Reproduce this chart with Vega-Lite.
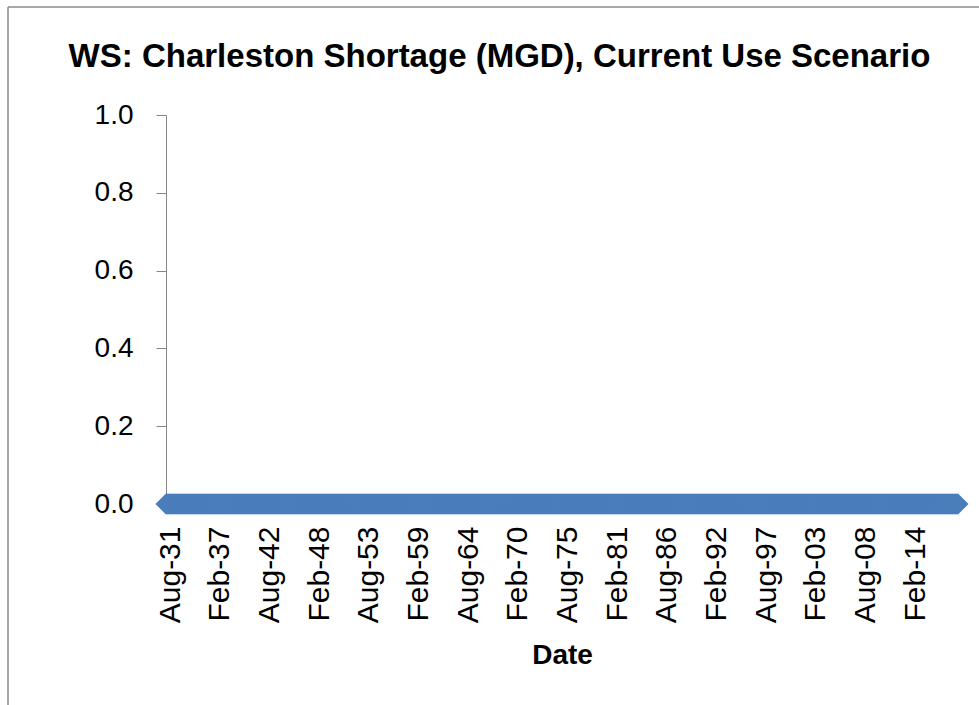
{
"$schema":"https://vega.github.io/schema/vega-lite/v6.json",
"width":971,"height":698,
"autosize":{"type":"none"},
"padding":{"left":8,"top":7,"right":0,"bottom":0},
"background":"white",
"view":{"stroke":"#8c8c8c","strokeWidth":1.5,"strokeDash":[971,1669,698,0]},
"title":{"text":"WS: Charleston Shortage (MGD), Current Use Scenario","font":"Liberation Sans","fontSize":33,"fontWeight":"bold","color":"#000","anchor":"middle","offset":-67,"dx":6},
"data":{"values":[
{"d":"1931-08","v":0},{"d":"1931-09","v":0},{"d":"1931-10","v":0},{"d":"1931-11","v":0},{"d":"1931-12","v":0},
{"d":"1932-01","v":0},{"d":"1932-02","v":0},{"d":"1932-03","v":0},{"d":"1932-04","v":0},{"d":"1932-05","v":0},{"d":"1932-06","v":0},{"d":"1932-07","v":0},{"d":"1932-08","v":0},{"d":"1932-09","v":0},{"d":"1932-10","v":0},{"d":"1932-11","v":0},{"d":"1932-12","v":0},
{"d":"1933-01","v":0},{"d":"1933-02","v":0},{"d":"1933-03","v":0},{"d":"1933-04","v":0},{"d":"1933-05","v":0},{"d":"1933-06","v":0},{"d":"1933-07","v":0},{"d":"1933-08","v":0},{"d":"1933-09","v":0},{"d":"1933-10","v":0},{"d":"1933-11","v":0},{"d":"1933-12","v":0},
{"d":"1934-01","v":0},{"d":"1934-02","v":0},{"d":"1934-03","v":0},{"d":"1934-04","v":0},{"d":"1934-05","v":0},{"d":"1934-06","v":0},{"d":"1934-07","v":0},{"d":"1934-08","v":0},{"d":"1934-09","v":0},{"d":"1934-10","v":0},{"d":"1934-11","v":0},{"d":"1934-12","v":0},
{"d":"1935-01","v":0},{"d":"1935-02","v":0},{"d":"1935-03","v":0},{"d":"1935-04","v":0},{"d":"1935-05","v":0},{"d":"1935-06","v":0},{"d":"1935-07","v":0},{"d":"1935-08","v":0},{"d":"1935-09","v":0},{"d":"1935-10","v":0},{"d":"1935-11","v":0},{"d":"1935-12","v":0},
{"d":"1936-01","v":0},{"d":"1936-02","v":0},{"d":"1936-03","v":0},{"d":"1936-04","v":0},{"d":"1936-05","v":0},{"d":"1936-06","v":0},{"d":"1936-07","v":0},{"d":"1936-08","v":0},{"d":"1936-09","v":0},{"d":"1936-10","v":0},{"d":"1936-11","v":0},{"d":"1936-12","v":0},
{"d":"1937-01","v":0},{"d":"1937-02","v":0},{"d":"1937-03","v":0},{"d":"1937-04","v":0},{"d":"1937-05","v":0},{"d":"1937-06","v":0},{"d":"1937-07","v":0},{"d":"1937-08","v":0},{"d":"1937-09","v":0},{"d":"1937-10","v":0},{"d":"1937-11","v":0},{"d":"1937-12","v":0},
{"d":"1938-01","v":0},{"d":"1938-02","v":0},{"d":"1938-03","v":0},{"d":"1938-04","v":0},{"d":"1938-05","v":0},{"d":"1938-06","v":0},{"d":"1938-07","v":0},{"d":"1938-08","v":0},{"d":"1938-09","v":0},{"d":"1938-10","v":0},{"d":"1938-11","v":0},{"d":"1938-12","v":0},
{"d":"1939-01","v":0},{"d":"1939-02","v":0},{"d":"1939-03","v":0},{"d":"1939-04","v":0},{"d":"1939-05","v":0},{"d":"1939-06","v":0},{"d":"1939-07","v":0},{"d":"1939-08","v":0},{"d":"1939-09","v":0},{"d":"1939-10","v":0},{"d":"1939-11","v":0},{"d":"1939-12","v":0},
{"d":"1940-01","v":0},{"d":"1940-02","v":0},{"d":"1940-03","v":0},{"d":"1940-04","v":0},{"d":"1940-05","v":0},{"d":"1940-06","v":0},{"d":"1940-07","v":0},{"d":"1940-08","v":0},{"d":"1940-09","v":0},{"d":"1940-10","v":0},{"d":"1940-11","v":0},{"d":"1940-12","v":0},
{"d":"1941-01","v":0},{"d":"1941-02","v":0},{"d":"1941-03","v":0},{"d":"1941-04","v":0},{"d":"1941-05","v":0},{"d":"1941-06","v":0},{"d":"1941-07","v":0},{"d":"1941-08","v":0},{"d":"1941-09","v":0},{"d":"1941-10","v":0},{"d":"1941-11","v":0},{"d":"1941-12","v":0},
{"d":"1942-01","v":0},{"d":"1942-02","v":0},{"d":"1942-03","v":0},{"d":"1942-04","v":0},{"d":"1942-05","v":0},{"d":"1942-06","v":0},{"d":"1942-07","v":0},{"d":"1942-08","v":0},{"d":"1942-09","v":0},{"d":"1942-10","v":0},{"d":"1942-11","v":0},{"d":"1942-12","v":0},
{"d":"1943-01","v":0},{"d":"1943-02","v":0},{"d":"1943-03","v":0},{"d":"1943-04","v":0},{"d":"1943-05","v":0},{"d":"1943-06","v":0},{"d":"1943-07","v":0},{"d":"1943-08","v":0},{"d":"1943-09","v":0},{"d":"1943-10","v":0},{"d":"1943-11","v":0},{"d":"1943-12","v":0},
{"d":"1944-01","v":0},{"d":"1944-02","v":0},{"d":"1944-03","v":0},{"d":"1944-04","v":0},{"d":"1944-05","v":0},{"d":"1944-06","v":0},{"d":"1944-07","v":0},{"d":"1944-08","v":0},{"d":"1944-09","v":0},{"d":"1944-10","v":0},{"d":"1944-11","v":0},{"d":"1944-12","v":0},
{"d":"1945-01","v":0},{"d":"1945-02","v":0},{"d":"1945-03","v":0},{"d":"1945-04","v":0},{"d":"1945-05","v":0},{"d":"1945-06","v":0},{"d":"1945-07","v":0},{"d":"1945-08","v":0},{"d":"1945-09","v":0},{"d":"1945-10","v":0},{"d":"1945-11","v":0},{"d":"1945-12","v":0},
{"d":"1946-01","v":0},{"d":"1946-02","v":0},{"d":"1946-03","v":0},{"d":"1946-04","v":0},{"d":"1946-05","v":0},{"d":"1946-06","v":0},{"d":"1946-07","v":0},{"d":"1946-08","v":0},{"d":"1946-09","v":0},{"d":"1946-10","v":0},{"d":"1946-11","v":0},{"d":"1946-12","v":0},
{"d":"1947-01","v":0},{"d":"1947-02","v":0},{"d":"1947-03","v":0},{"d":"1947-04","v":0},{"d":"1947-05","v":0},{"d":"1947-06","v":0},{"d":"1947-07","v":0},{"d":"1947-08","v":0},{"d":"1947-09","v":0},{"d":"1947-10","v":0},{"d":"1947-11","v":0},{"d":"1947-12","v":0},
{"d":"1948-01","v":0},{"d":"1948-02","v":0},{"d":"1948-03","v":0},{"d":"1948-04","v":0},{"d":"1948-05","v":0},{"d":"1948-06","v":0},{"d":"1948-07","v":0},{"d":"1948-08","v":0},{"d":"1948-09","v":0},{"d":"1948-10","v":0},{"d":"1948-11","v":0},{"d":"1948-12","v":0},
{"d":"1949-01","v":0},{"d":"1949-02","v":0},{"d":"1949-03","v":0},{"d":"1949-04","v":0},{"d":"1949-05","v":0},{"d":"1949-06","v":0},{"d":"1949-07","v":0},{"d":"1949-08","v":0},{"d":"1949-09","v":0},{"d":"1949-10","v":0},{"d":"1949-11","v":0},{"d":"1949-12","v":0},
{"d":"1950-01","v":0},{"d":"1950-02","v":0},{"d":"1950-03","v":0},{"d":"1950-04","v":0},{"d":"1950-05","v":0},{"d":"1950-06","v":0},{"d":"1950-07","v":0},{"d":"1950-08","v":0},{"d":"1950-09","v":0},{"d":"1950-10","v":0},{"d":"1950-11","v":0},{"d":"1950-12","v":0},
{"d":"1951-01","v":0},{"d":"1951-02","v":0},{"d":"1951-03","v":0},{"d":"1951-04","v":0},{"d":"1951-05","v":0},{"d":"1951-06","v":0},{"d":"1951-07","v":0},{"d":"1951-08","v":0},{"d":"1951-09","v":0},{"d":"1951-10","v":0},{"d":"1951-11","v":0},{"d":"1951-12","v":0},
{"d":"1952-01","v":0},{"d":"1952-02","v":0},{"d":"1952-03","v":0},{"d":"1952-04","v":0},{"d":"1952-05","v":0},{"d":"1952-06","v":0},{"d":"1952-07","v":0},{"d":"1952-08","v":0},{"d":"1952-09","v":0},{"d":"1952-10","v":0},{"d":"1952-11","v":0},{"d":"1952-12","v":0},
{"d":"1953-01","v":0},{"d":"1953-02","v":0},{"d":"1953-03","v":0},{"d":"1953-04","v":0},{"d":"1953-05","v":0},{"d":"1953-06","v":0},{"d":"1953-07","v":0},{"d":"1953-08","v":0},{"d":"1953-09","v":0},{"d":"1953-10","v":0},{"d":"1953-11","v":0},{"d":"1953-12","v":0},
{"d":"1954-01","v":0},{"d":"1954-02","v":0},{"d":"1954-03","v":0},{"d":"1954-04","v":0},{"d":"1954-05","v":0},{"d":"1954-06","v":0},{"d":"1954-07","v":0},{"d":"1954-08","v":0},{"d":"1954-09","v":0},{"d":"1954-10","v":0},{"d":"1954-11","v":0},{"d":"1954-12","v":0},
{"d":"1955-01","v":0},{"d":"1955-02","v":0},{"d":"1955-03","v":0},{"d":"1955-04","v":0},{"d":"1955-05","v":0},{"d":"1955-06","v":0},{"d":"1955-07","v":0},{"d":"1955-08","v":0},{"d":"1955-09","v":0},{"d":"1955-10","v":0},{"d":"1955-11","v":0},{"d":"1955-12","v":0},
{"d":"1956-01","v":0},{"d":"1956-02","v":0},{"d":"1956-03","v":0},{"d":"1956-04","v":0},{"d":"1956-05","v":0},{"d":"1956-06","v":0},{"d":"1956-07","v":0},{"d":"1956-08","v":0},{"d":"1956-09","v":0},{"d":"1956-10","v":0},{"d":"1956-11","v":0},{"d":"1956-12","v":0},
{"d":"1957-01","v":0},{"d":"1957-02","v":0},{"d":"1957-03","v":0},{"d":"1957-04","v":0},{"d":"1957-05","v":0},{"d":"1957-06","v":0},{"d":"1957-07","v":0},{"d":"1957-08","v":0},{"d":"1957-09","v":0},{"d":"1957-10","v":0},{"d":"1957-11","v":0},{"d":"1957-12","v":0},
{"d":"1958-01","v":0},{"d":"1958-02","v":0},{"d":"1958-03","v":0},{"d":"1958-04","v":0},{"d":"1958-05","v":0},{"d":"1958-06","v":0},{"d":"1958-07","v":0},{"d":"1958-08","v":0},{"d":"1958-09","v":0},{"d":"1958-10","v":0},{"d":"1958-11","v":0},{"d":"1958-12","v":0},
{"d":"1959-01","v":0},{"d":"1959-02","v":0},{"d":"1959-03","v":0},{"d":"1959-04","v":0},{"d":"1959-05","v":0},{"d":"1959-06","v":0},{"d":"1959-07","v":0},{"d":"1959-08","v":0},{"d":"1959-09","v":0},{"d":"1959-10","v":0},{"d":"1959-11","v":0},{"d":"1959-12","v":0},
{"d":"1960-01","v":0},{"d":"1960-02","v":0},{"d":"1960-03","v":0},{"d":"1960-04","v":0},{"d":"1960-05","v":0},{"d":"1960-06","v":0},{"d":"1960-07","v":0},{"d":"1960-08","v":0},{"d":"1960-09","v":0},{"d":"1960-10","v":0},{"d":"1960-11","v":0},{"d":"1960-12","v":0},
{"d":"1961-01","v":0},{"d":"1961-02","v":0},{"d":"1961-03","v":0},{"d":"1961-04","v":0},{"d":"1961-05","v":0},{"d":"1961-06","v":0},{"d":"1961-07","v":0},{"d":"1961-08","v":0},{"d":"1961-09","v":0},{"d":"1961-10","v":0},{"d":"1961-11","v":0},{"d":"1961-12","v":0},
{"d":"1962-01","v":0},{"d":"1962-02","v":0},{"d":"1962-03","v":0},{"d":"1962-04","v":0},{"d":"1962-05","v":0},{"d":"1962-06","v":0},{"d":"1962-07","v":0},{"d":"1962-08","v":0},{"d":"1962-09","v":0},{"d":"1962-10","v":0},{"d":"1962-11","v":0},{"d":"1962-12","v":0},
{"d":"1963-01","v":0},{"d":"1963-02","v":0},{"d":"1963-03","v":0},{"d":"1963-04","v":0},{"d":"1963-05","v":0},{"d":"1963-06","v":0},{"d":"1963-07","v":0},{"d":"1963-08","v":0},{"d":"1963-09","v":0},{"d":"1963-10","v":0},{"d":"1963-11","v":0},{"d":"1963-12","v":0},
{"d":"1964-01","v":0},{"d":"1964-02","v":0},{"d":"1964-03","v":0},{"d":"1964-04","v":0},{"d":"1964-05","v":0},{"d":"1964-06","v":0},{"d":"1964-07","v":0},{"d":"1964-08","v":0},{"d":"1964-09","v":0},{"d":"1964-10","v":0},{"d":"1964-11","v":0},{"d":"1964-12","v":0},
{"d":"1965-01","v":0},{"d":"1965-02","v":0},{"d":"1965-03","v":0},{"d":"1965-04","v":0},{"d":"1965-05","v":0},{"d":"1965-06","v":0},{"d":"1965-07","v":0},{"d":"1965-08","v":0},{"d":"1965-09","v":0},{"d":"1965-10","v":0},{"d":"1965-11","v":0},{"d":"1965-12","v":0},
{"d":"1966-01","v":0},{"d":"1966-02","v":0},{"d":"1966-03","v":0},{"d":"1966-04","v":0},{"d":"1966-05","v":0},{"d":"1966-06","v":0},{"d":"1966-07","v":0},{"d":"1966-08","v":0},{"d":"1966-09","v":0},{"d":"1966-10","v":0},{"d":"1966-11","v":0},{"d":"1966-12","v":0},
{"d":"1967-01","v":0},{"d":"1967-02","v":0},{"d":"1967-03","v":0},{"d":"1967-04","v":0},{"d":"1967-05","v":0},{"d":"1967-06","v":0},{"d":"1967-07","v":0},{"d":"1967-08","v":0},{"d":"1967-09","v":0},{"d":"1967-10","v":0},{"d":"1967-11","v":0},{"d":"1967-12","v":0},
{"d":"1968-01","v":0},{"d":"1968-02","v":0},{"d":"1968-03","v":0},{"d":"1968-04","v":0},{"d":"1968-05","v":0},{"d":"1968-06","v":0},{"d":"1968-07","v":0},{"d":"1968-08","v":0},{"d":"1968-09","v":0},{"d":"1968-10","v":0},{"d":"1968-11","v":0},{"d":"1968-12","v":0},
{"d":"1969-01","v":0},{"d":"1969-02","v":0},{"d":"1969-03","v":0},{"d":"1969-04","v":0},{"d":"1969-05","v":0},{"d":"1969-06","v":0},{"d":"1969-07","v":0},{"d":"1969-08","v":0},{"d":"1969-09","v":0},{"d":"1969-10","v":0},{"d":"1969-11","v":0},{"d":"1969-12","v":0},
{"d":"1970-01","v":0},{"d":"1970-02","v":0},{"d":"1970-03","v":0},{"d":"1970-04","v":0},{"d":"1970-05","v":0},{"d":"1970-06","v":0},{"d":"1970-07","v":0},{"d":"1970-08","v":0},{"d":"1970-09","v":0},{"d":"1970-10","v":0},{"d":"1970-11","v":0},{"d":"1970-12","v":0},
{"d":"1971-01","v":0},{"d":"1971-02","v":0},{"d":"1971-03","v":0},{"d":"1971-04","v":0},{"d":"1971-05","v":0},{"d":"1971-06","v":0},{"d":"1971-07","v":0},{"d":"1971-08","v":0},{"d":"1971-09","v":0},{"d":"1971-10","v":0},{"d":"1971-11","v":0},{"d":"1971-12","v":0},
{"d":"1972-01","v":0},{"d":"1972-02","v":0},{"d":"1972-03","v":0},{"d":"1972-04","v":0},{"d":"1972-05","v":0},{"d":"1972-06","v":0},{"d":"1972-07","v":0},{"d":"1972-08","v":0},{"d":"1972-09","v":0},{"d":"1972-10","v":0},{"d":"1972-11","v":0},{"d":"1972-12","v":0},
{"d":"1973-01","v":0},{"d":"1973-02","v":0},{"d":"1973-03","v":0},{"d":"1973-04","v":0},{"d":"1973-05","v":0},{"d":"1973-06","v":0},{"d":"1973-07","v":0},{"d":"1973-08","v":0},{"d":"1973-09","v":0},{"d":"1973-10","v":0},{"d":"1973-11","v":0},{"d":"1973-12","v":0},
{"d":"1974-01","v":0},{"d":"1974-02","v":0},{"d":"1974-03","v":0},{"d":"1974-04","v":0},{"d":"1974-05","v":0},{"d":"1974-06","v":0},{"d":"1974-07","v":0},{"d":"1974-08","v":0},{"d":"1974-09","v":0},{"d":"1974-10","v":0},{"d":"1974-11","v":0},{"d":"1974-12","v":0},
{"d":"1975-01","v":0},{"d":"1975-02","v":0},{"d":"1975-03","v":0},{"d":"1975-04","v":0},{"d":"1975-05","v":0},{"d":"1975-06","v":0},{"d":"1975-07","v":0},{"d":"1975-08","v":0},{"d":"1975-09","v":0},{"d":"1975-10","v":0},{"d":"1975-11","v":0},{"d":"1975-12","v":0},
{"d":"1976-01","v":0},{"d":"1976-02","v":0},{"d":"1976-03","v":0},{"d":"1976-04","v":0},{"d":"1976-05","v":0},{"d":"1976-06","v":0},{"d":"1976-07","v":0},{"d":"1976-08","v":0},{"d":"1976-09","v":0},{"d":"1976-10","v":0},{"d":"1976-11","v":0},{"d":"1976-12","v":0},
{"d":"1977-01","v":0},{"d":"1977-02","v":0},{"d":"1977-03","v":0},{"d":"1977-04","v":0},{"d":"1977-05","v":0},{"d":"1977-06","v":0},{"d":"1977-07","v":0},{"d":"1977-08","v":0},{"d":"1977-09","v":0},{"d":"1977-10","v":0},{"d":"1977-11","v":0},{"d":"1977-12","v":0},
{"d":"1978-01","v":0},{"d":"1978-02","v":0},{"d":"1978-03","v":0},{"d":"1978-04","v":0},{"d":"1978-05","v":0},{"d":"1978-06","v":0},{"d":"1978-07","v":0},{"d":"1978-08","v":0},{"d":"1978-09","v":0},{"d":"1978-10","v":0},{"d":"1978-11","v":0},{"d":"1978-12","v":0},
{"d":"1979-01","v":0},{"d":"1979-02","v":0},{"d":"1979-03","v":0},{"d":"1979-04","v":0},{"d":"1979-05","v":0},{"d":"1979-06","v":0},{"d":"1979-07","v":0},{"d":"1979-08","v":0},{"d":"1979-09","v":0},{"d":"1979-10","v":0},{"d":"1979-11","v":0},{"d":"1979-12","v":0},
{"d":"1980-01","v":0},{"d":"1980-02","v":0},{"d":"1980-03","v":0},{"d":"1980-04","v":0},{"d":"1980-05","v":0},{"d":"1980-06","v":0},{"d":"1980-07","v":0},{"d":"1980-08","v":0},{"d":"1980-09","v":0},{"d":"1980-10","v":0},{"d":"1980-11","v":0},{"d":"1980-12","v":0},
{"d":"1981-01","v":0},{"d":"1981-02","v":0},{"d":"1981-03","v":0},{"d":"1981-04","v":0},{"d":"1981-05","v":0},{"d":"1981-06","v":0},{"d":"1981-07","v":0},{"d":"1981-08","v":0},{"d":"1981-09","v":0},{"d":"1981-10","v":0},{"d":"1981-11","v":0},{"d":"1981-12","v":0},
{"d":"1982-01","v":0},{"d":"1982-02","v":0},{"d":"1982-03","v":0},{"d":"1982-04","v":0},{"d":"1982-05","v":0},{"d":"1982-06","v":0},{"d":"1982-07","v":0},{"d":"1982-08","v":0},{"d":"1982-09","v":0},{"d":"1982-10","v":0},{"d":"1982-11","v":0},{"d":"1982-12","v":0},
{"d":"1983-01","v":0},{"d":"1983-02","v":0},{"d":"1983-03","v":0},{"d":"1983-04","v":0},{"d":"1983-05","v":0},{"d":"1983-06","v":0},{"d":"1983-07","v":0},{"d":"1983-08","v":0},{"d":"1983-09","v":0},{"d":"1983-10","v":0},{"d":"1983-11","v":0},{"d":"1983-12","v":0},
{"d":"1984-01","v":0},{"d":"1984-02","v":0},{"d":"1984-03","v":0},{"d":"1984-04","v":0},{"d":"1984-05","v":0},{"d":"1984-06","v":0},{"d":"1984-07","v":0},{"d":"1984-08","v":0},{"d":"1984-09","v":0},{"d":"1984-10","v":0},{"d":"1984-11","v":0},{"d":"1984-12","v":0},
{"d":"1985-01","v":0},{"d":"1985-02","v":0},{"d":"1985-03","v":0},{"d":"1985-04","v":0},{"d":"1985-05","v":0},{"d":"1985-06","v":0},{"d":"1985-07","v":0},{"d":"1985-08","v":0},{"d":"1985-09","v":0},{"d":"1985-10","v":0},{"d":"1985-11","v":0},{"d":"1985-12","v":0},
{"d":"1986-01","v":0},{"d":"1986-02","v":0},{"d":"1986-03","v":0},{"d":"1986-04","v":0},{"d":"1986-05","v":0},{"d":"1986-06","v":0},{"d":"1986-07","v":0},{"d":"1986-08","v":0},{"d":"1986-09","v":0},{"d":"1986-10","v":0},{"d":"1986-11","v":0},{"d":"1986-12","v":0},
{"d":"1987-01","v":0},{"d":"1987-02","v":0},{"d":"1987-03","v":0},{"d":"1987-04","v":0},{"d":"1987-05","v":0},{"d":"1987-06","v":0},{"d":"1987-07","v":0},{"d":"1987-08","v":0},{"d":"1987-09","v":0},{"d":"1987-10","v":0},{"d":"1987-11","v":0},{"d":"1987-12","v":0},
{"d":"1988-01","v":0},{"d":"1988-02","v":0},{"d":"1988-03","v":0},{"d":"1988-04","v":0},{"d":"1988-05","v":0},{"d":"1988-06","v":0},{"d":"1988-07","v":0},{"d":"1988-08","v":0},{"d":"1988-09","v":0},{"d":"1988-10","v":0},{"d":"1988-11","v":0},{"d":"1988-12","v":0},
{"d":"1989-01","v":0},{"d":"1989-02","v":0},{"d":"1989-03","v":0},{"d":"1989-04","v":0},{"d":"1989-05","v":0},{"d":"1989-06","v":0},{"d":"1989-07","v":0},{"d":"1989-08","v":0},{"d":"1989-09","v":0},{"d":"1989-10","v":0},{"d":"1989-11","v":0},{"d":"1989-12","v":0},
{"d":"1990-01","v":0},{"d":"1990-02","v":0},{"d":"1990-03","v":0},{"d":"1990-04","v":0},{"d":"1990-05","v":0},{"d":"1990-06","v":0},{"d":"1990-07","v":0},{"d":"1990-08","v":0},{"d":"1990-09","v":0},{"d":"1990-10","v":0},{"d":"1990-11","v":0},{"d":"1990-12","v":0},
{"d":"1991-01","v":0},{"d":"1991-02","v":0},{"d":"1991-03","v":0},{"d":"1991-04","v":0},{"d":"1991-05","v":0},{"d":"1991-06","v":0},{"d":"1991-07","v":0},{"d":"1991-08","v":0},{"d":"1991-09","v":0},{"d":"1991-10","v":0},{"d":"1991-11","v":0},{"d":"1991-12","v":0},
{"d":"1992-01","v":0},{"d":"1992-02","v":0},{"d":"1992-03","v":0},{"d":"1992-04","v":0},{"d":"1992-05","v":0},{"d":"1992-06","v":0},{"d":"1992-07","v":0},{"d":"1992-08","v":0},{"d":"1992-09","v":0},{"d":"1992-10","v":0},{"d":"1992-11","v":0},{"d":"1992-12","v":0},
{"d":"1993-01","v":0},{"d":"1993-02","v":0},{"d":"1993-03","v":0},{"d":"1993-04","v":0},{"d":"1993-05","v":0},{"d":"1993-06","v":0},{"d":"1993-07","v":0},{"d":"1993-08","v":0},{"d":"1993-09","v":0},{"d":"1993-10","v":0},{"d":"1993-11","v":0},{"d":"1993-12","v":0},
{"d":"1994-01","v":0},{"d":"1994-02","v":0},{"d":"1994-03","v":0},{"d":"1994-04","v":0},{"d":"1994-05","v":0},{"d":"1994-06","v":0},{"d":"1994-07","v":0},{"d":"1994-08","v":0},{"d":"1994-09","v":0},{"d":"1994-10","v":0},{"d":"1994-11","v":0},{"d":"1994-12","v":0},
{"d":"1995-01","v":0},{"d":"1995-02","v":0},{"d":"1995-03","v":0},{"d":"1995-04","v":0},{"d":"1995-05","v":0},{"d":"1995-06","v":0},{"d":"1995-07","v":0},{"d":"1995-08","v":0},{"d":"1995-09","v":0},{"d":"1995-10","v":0},{"d":"1995-11","v":0},{"d":"1995-12","v":0},
{"d":"1996-01","v":0},{"d":"1996-02","v":0},{"d":"1996-03","v":0},{"d":"1996-04","v":0},{"d":"1996-05","v":0},{"d":"1996-06","v":0},{"d":"1996-07","v":0},{"d":"1996-08","v":0},{"d":"1996-09","v":0},{"d":"1996-10","v":0},{"d":"1996-11","v":0},{"d":"1996-12","v":0},
{"d":"1997-01","v":0},{"d":"1997-02","v":0},{"d":"1997-03","v":0},{"d":"1997-04","v":0},{"d":"1997-05","v":0},{"d":"1997-06","v":0},{"d":"1997-07","v":0},{"d":"1997-08","v":0},{"d":"1997-09","v":0},{"d":"1997-10","v":0},{"d":"1997-11","v":0},{"d":"1997-12","v":0},
{"d":"1998-01","v":0},{"d":"1998-02","v":0},{"d":"1998-03","v":0},{"d":"1998-04","v":0},{"d":"1998-05","v":0},{"d":"1998-06","v":0},{"d":"1998-07","v":0},{"d":"1998-08","v":0},{"d":"1998-09","v":0},{"d":"1998-10","v":0},{"d":"1998-11","v":0},{"d":"1998-12","v":0},
{"d":"1999-01","v":0},{"d":"1999-02","v":0},{"d":"1999-03","v":0},{"d":"1999-04","v":0},{"d":"1999-05","v":0},{"d":"1999-06","v":0},{"d":"1999-07","v":0},{"d":"1999-08","v":0},{"d":"1999-09","v":0},{"d":"1999-10","v":0},{"d":"1999-11","v":0},{"d":"1999-12","v":0},
{"d":"2000-01","v":0},{"d":"2000-02","v":0},{"d":"2000-03","v":0},{"d":"2000-04","v":0},{"d":"2000-05","v":0},{"d":"2000-06","v":0},{"d":"2000-07","v":0},{"d":"2000-08","v":0},{"d":"2000-09","v":0},{"d":"2000-10","v":0},{"d":"2000-11","v":0},{"d":"2000-12","v":0},
{"d":"2001-01","v":0},{"d":"2001-02","v":0},{"d":"2001-03","v":0},{"d":"2001-04","v":0},{"d":"2001-05","v":0},{"d":"2001-06","v":0},{"d":"2001-07","v":0},{"d":"2001-08","v":0},{"d":"2001-09","v":0},{"d":"2001-10","v":0},{"d":"2001-11","v":0},{"d":"2001-12","v":0},
{"d":"2002-01","v":0},{"d":"2002-02","v":0},{"d":"2002-03","v":0},{"d":"2002-04","v":0},{"d":"2002-05","v":0},{"d":"2002-06","v":0},{"d":"2002-07","v":0},{"d":"2002-08","v":0},{"d":"2002-09","v":0},{"d":"2002-10","v":0},{"d":"2002-11","v":0},{"d":"2002-12","v":0},
{"d":"2003-01","v":0},{"d":"2003-02","v":0},{"d":"2003-03","v":0},{"d":"2003-04","v":0},{"d":"2003-05","v":0},{"d":"2003-06","v":0},{"d":"2003-07","v":0},{"d":"2003-08","v":0},{"d":"2003-09","v":0},{"d":"2003-10","v":0},{"d":"2003-11","v":0},{"d":"2003-12","v":0},
{"d":"2004-01","v":0},{"d":"2004-02","v":0},{"d":"2004-03","v":0},{"d":"2004-04","v":0},{"d":"2004-05","v":0},{"d":"2004-06","v":0},{"d":"2004-07","v":0},{"d":"2004-08","v":0},{"d":"2004-09","v":0},{"d":"2004-10","v":0},{"d":"2004-11","v":0},{"d":"2004-12","v":0},
{"d":"2005-01","v":0},{"d":"2005-02","v":0},{"d":"2005-03","v":0},{"d":"2005-04","v":0},{"d":"2005-05","v":0},{"d":"2005-06","v":0},{"d":"2005-07","v":0},{"d":"2005-08","v":0},{"d":"2005-09","v":0},{"d":"2005-10","v":0},{"d":"2005-11","v":0},{"d":"2005-12","v":0},
{"d":"2006-01","v":0},{"d":"2006-02","v":0},{"d":"2006-03","v":0},{"d":"2006-04","v":0},{"d":"2006-05","v":0},{"d":"2006-06","v":0},{"d":"2006-07","v":0},{"d":"2006-08","v":0},{"d":"2006-09","v":0},{"d":"2006-10","v":0},{"d":"2006-11","v":0},{"d":"2006-12","v":0},
{"d":"2007-01","v":0},{"d":"2007-02","v":0},{"d":"2007-03","v":0},{"d":"2007-04","v":0},{"d":"2007-05","v":0},{"d":"2007-06","v":0},{"d":"2007-07","v":0},{"d":"2007-08","v":0},{"d":"2007-09","v":0},{"d":"2007-10","v":0},{"d":"2007-11","v":0},{"d":"2007-12","v":0},
{"d":"2008-01","v":0},{"d":"2008-02","v":0},{"d":"2008-03","v":0},{"d":"2008-04","v":0},{"d":"2008-05","v":0},{"d":"2008-06","v":0},{"d":"2008-07","v":0},{"d":"2008-08","v":0},{"d":"2008-09","v":0},{"d":"2008-10","v":0},{"d":"2008-11","v":0},{"d":"2008-12","v":0},
{"d":"2009-01","v":0},{"d":"2009-02","v":0},{"d":"2009-03","v":0},{"d":"2009-04","v":0},{"d":"2009-05","v":0},{"d":"2009-06","v":0},{"d":"2009-07","v":0},{"d":"2009-08","v":0},{"d":"2009-09","v":0},{"d":"2009-10","v":0},{"d":"2009-11","v":0},{"d":"2009-12","v":0},
{"d":"2010-01","v":0},{"d":"2010-02","v":0},{"d":"2010-03","v":0},{"d":"2010-04","v":0},{"d":"2010-05","v":0},{"d":"2010-06","v":0},{"d":"2010-07","v":0},{"d":"2010-08","v":0},{"d":"2010-09","v":0},{"d":"2010-10","v":0},{"d":"2010-11","v":0},{"d":"2010-12","v":0},
{"d":"2011-01","v":0},{"d":"2011-02","v":0},{"d":"2011-03","v":0},{"d":"2011-04","v":0},{"d":"2011-05","v":0},{"d":"2011-06","v":0},{"d":"2011-07","v":0},{"d":"2011-08","v":0},{"d":"2011-09","v":0},{"d":"2011-10","v":0},{"d":"2011-11","v":0},{"d":"2011-12","v":0},
{"d":"2012-01","v":0},{"d":"2012-02","v":0},{"d":"2012-03","v":0},{"d":"2012-04","v":0},{"d":"2012-05","v":0},{"d":"2012-06","v":0},{"d":"2012-07","v":0},{"d":"2012-08","v":0},{"d":"2012-09","v":0},{"d":"2012-10","v":0},{"d":"2012-11","v":0},{"d":"2012-12","v":0},
{"d":"2013-01","v":0},{"d":"2013-02","v":0},{"d":"2013-03","v":0},{"d":"2013-04","v":0},{"d":"2013-05","v":0},{"d":"2013-06","v":0},{"d":"2013-07","v":0},{"d":"2013-08","v":0},{"d":"2013-09","v":0},{"d":"2013-10","v":0},{"d":"2013-11","v":0},{"d":"2013-12","v":0},
{"d":"2014-01","v":0},{"d":"2014-02","v":0},{"d":"2014-03","v":0},{"d":"2014-04","v":0},{"d":"2014-05","v":0},{"d":"2014-06","v":0},{"d":"2014-07","v":0},{"d":"2014-08","v":0},{"d":"2014-09","v":0},{"d":"2014-10","v":0},{"d":"2014-11","v":0},{"d":"2014-12","v":0},
{"d":"2015-01","v":0},{"d":"2015-02","v":0},{"d":"2015-03","v":0},{"d":"2015-04","v":0},{"d":"2015-05","v":0},{"d":"2015-06","v":0},{"d":"2015-07","v":0},{"d":"2015-08","v":0},{"d":"2015-09","v":0},{"d":"2015-10","v":0},{"d":"2015-11","v":0},{"d":"2015-12","v":0},
{"d":"2016-01","v":0},{"d":"2016-02","v":0},{"d":"2016-03","v":0},{"d":"2016-04","v":0},{"d":"2016-05","v":0},{"d":"2016-06","v":0},{"d":"2016-07","v":0},{"d":"2016-08","v":0},{"d":"2016-09","v":0},{"d":"2016-10","v":0},{"d":"2016-11","v":0},{"d":"2016-12","v":0},
{"d":"2017-01","v":0},{"d":"2017-02","v":0},{"d":"2017-03","v":0},{"d":"2017-04","v":0},{"d":"2017-05","v":0},{"d":"2017-06","v":0},{"d":"2017-07","v":0},{"d":"2017-08","v":0},{"d":"2017-09","v":0},{"d":"2017-10","v":0},{"d":"2017-11","v":0},{"d":"2017-12","v":0},
{"d":"2018-01","v":0},{"d":"2018-02","v":0},{"d":"2018-03","v":0},{"d":"2018-04","v":0},{"d":"2018-05","v":0},{"d":"2018-06","v":0},{"d":"2018-07","v":0},{"d":"2018-08","v":0},{"d":"2018-09","v":0},{"d":"2018-10","v":0},{"d":"2018-11","v":0},{"d":"2018-12","v":0},
{"d":"2019-01","v":0},{"d":"2019-02","v":0},{"d":"2019-03","v":0},{"d":"2019-04","v":0}
]},
"mark":{"type":"line","color":"#4a7ebb","strokeWidth":4,"point":{"filled":true,"shape":"diamond","size":441,"color":"#4a7ebb","opacity":1,"strokeWidth":0}},
"encoding":{
"x":{"field":"d","type":"temporal","scale":{"type":"utc","range":[158,950],"nice":false},
"axis":{"title":"Date","values":[{"year":1931,"month":8,"date":1,"utc":true},{"year":1937,"month":2,"date":1,"utc":true},{"year":1942,"month":8,"date":1,"utc":true},{"year":1948,"month":2,"date":1,"utc":true},{"year":1953,"month":8,"date":1,"utc":true},{"year":1959,"month":2,"date":1,"utc":true},{"year":1964,"month":8,"date":1,"utc":true},{"year":1970,"month":2,"date":1,"utc":true},{"year":1975,"month":8,"date":1,"utc":true},{"year":1981,"month":2,"date":1,"utc":true},{"year":1986,"month":8,"date":1,"utc":true},{"year":1992,"month":2,"date":1,"utc":true},{"year":1997,"month":8,"date":1,"utc":true},{"year":2003,"month":2,"date":1,"utc":true},{"year":2008,"month":8,"date":1,"utc":true},{"year":2014,"month":2,"date":1,"utc":true}],
"labelExpr":"utcFormat(datum.value, '%b-%y')","labelAngle":270,"labelFont":"Liberation Sans","labelFontSize":30,"labelColor":"#000","labelPadding":22,"labelOffset":4,"labelOverlap":false,"labelFlush":false,"labelBound":false,"ticks":false,"domain":false,"grid":false,"offset":-201,
"titleFont":"Liberation Sans","titleFontSize":28,"titleFontWeight":"bold","titleColor":"#000","titlePadding":19}},
"y":{"field":"v","type":"quantitative","scale":{"domain":[0,1],"range":[497,108],"nice":false},
"axis":{"title":null,"values":[0,0.2,0.4,0.6,0.8,1],"format":".1f","offset":-158,"tickSize":10,"tickColor":"#868686","tickWidth":1,"domainColor":"#868686","domainWidth":1,"labelFont":"Liberation Sans","labelFontSize":28,"labelColor":"#000","labelPadding":23,"grid":false}}
}
}
